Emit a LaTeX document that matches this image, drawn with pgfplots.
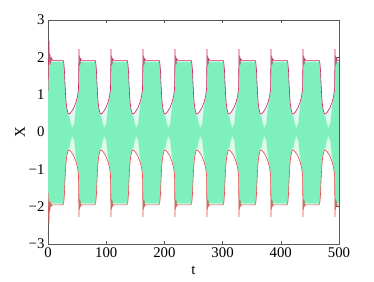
\documentclass[border=0pt]{standalone}
\usepackage{fontspec}
\setmainfont{Liberation Serif}
\usepackage{pgfplots}
\pgfplotsset{compat=1.18}
\usepackage{pgfplotstable}
\usepgfplotslibrary{fillbetween}
\definecolor{envU}{RGB}{208,32,96}
\definecolor{envL}{RGB}{240,70,70}
\definecolor{mint}{RGB}{125,240,190}
\definecolor{mintlt}{RGB}{222,250,237}
\definecolor{ring}{RGB}{150,140,120}

% envelopes: t, upper, lower
\pgfplotstableread{
t U L
0.0 1.10 -1.62
1.0 2.00 -2.10
1.6 2.45 -2.45
2.4 1.88 -1.90
3.4 2.08 -2.05
4.5 1.86 -1.90
6.0 1.98 -1.98
8.0 1.92 -1.95
25.7 1.92 -1.95
27.2 1.85 -1.88
28.2 1.65 -1.67
29.2 1.30 -1.30
30.2 0.98 -0.98
31.2 0.78 -0.78
32.7 0.60 -0.60
34.7 0.50 -0.50
36.7 0.48 -0.48
40.2 0.54 -0.54
44.2 0.64 -0.64
48.2 0.80 -0.80
50.7 0.95 -0.95
52.4 1.15 -1.15
53.2 2.22 -2.27
53.8 1.80 -1.85
54.4 2.02 -2.05
55.2 1.86 -1.88
56.2 1.96 -1.98
57.7 1.92 -1.95
80.7 1.92 -1.95
82.2 1.85 -1.88
83.2 1.65 -1.67
84.2 1.30 -1.30
85.2 0.98 -0.98
86.2 0.78 -0.78
87.7 0.60 -0.60
89.7 0.50 -0.50
91.7 0.48 -0.48
95.2 0.54 -0.54
99.2 0.64 -0.64
103.2 0.80 -0.80
105.7 0.95 -0.95
107.4 1.15 -1.15
108.2 2.22 -2.27
108.8 1.80 -1.85
109.4 2.02 -2.05
110.2 1.86 -1.88
111.2 1.96 -1.98
112.7 1.92 -1.95
135.7 1.92 -1.95
137.2 1.85 -1.88
138.2 1.65 -1.67
139.2 1.30 -1.30
140.2 0.98 -0.98
141.2 0.78 -0.78
142.7 0.60 -0.60
144.7 0.50 -0.50
146.7 0.48 -0.48
150.2 0.54 -0.54
154.2 0.64 -0.64
158.2 0.80 -0.80
160.7 0.95 -0.95
162.4 1.15 -1.15
163.2 2.22 -2.27
163.8 1.80 -1.85
164.4 2.02 -2.05
165.2 1.86 -1.88
166.2 1.96 -1.98
167.7 1.92 -1.95
190.7 1.92 -1.95
192.2 1.85 -1.88
193.2 1.65 -1.67
194.2 1.30 -1.30
195.2 0.98 -0.98
196.2 0.78 -0.78
197.7 0.60 -0.60
199.7 0.50 -0.50
201.7 0.48 -0.48
205.2 0.54 -0.54
209.2 0.64 -0.64
213.2 0.80 -0.80
215.7 0.95 -0.95
217.4 1.15 -1.15
218.2 2.22 -2.27
218.8 1.80 -1.85
219.4 2.02 -2.05
220.2 1.86 -1.88
221.2 1.96 -1.98
222.7 1.92 -1.95
245.7 1.92 -1.95
247.2 1.85 -1.88
248.2 1.65 -1.67
249.2 1.30 -1.30
250.2 0.98 -0.98
251.2 0.78 -0.78
252.7 0.60 -0.60
254.7 0.50 -0.50
256.7 0.48 -0.48
260.2 0.54 -0.54
264.2 0.64 -0.64
268.2 0.80 -0.80
270.7 0.95 -0.95
272.4 1.15 -1.15
273.2 2.22 -2.27
273.8 1.80 -1.85
274.4 2.02 -2.05
275.2 1.86 -1.88
276.2 1.96 -1.98
277.7 1.92 -1.95
300.7 1.92 -1.95
302.2 1.85 -1.88
303.2 1.65 -1.67
304.2 1.30 -1.30
305.2 0.98 -0.98
306.2 0.78 -0.78
307.7 0.60 -0.60
309.7 0.50 -0.50
311.7 0.48 -0.48
315.2 0.54 -0.54
319.2 0.64 -0.64
323.2 0.80 -0.80
325.7 0.95 -0.95
327.4 1.15 -1.15
328.2 2.22 -2.27
328.8 1.80 -1.85
329.4 2.02 -2.05
330.2 1.86 -1.88
331.2 1.96 -1.98
332.7 1.92 -1.95
355.7 1.92 -1.95
357.2 1.85 -1.88
358.2 1.65 -1.67
359.2 1.30 -1.30
360.2 0.98 -0.98
361.2 0.78 -0.78
362.7 0.60 -0.60
364.7 0.50 -0.50
366.7 0.48 -0.48
370.2 0.54 -0.54
374.2 0.64 -0.64
378.2 0.80 -0.80
380.7 0.95 -0.95
382.4 1.15 -1.15
383.2 2.22 -2.27
383.8 1.80 -1.85
384.4 2.02 -2.05
385.2 1.86 -1.88
386.2 1.96 -1.98
387.7 1.92 -1.95
410.7 1.92 -1.95
412.2 1.85 -1.88
413.2 1.65 -1.67
414.2 1.30 -1.30
415.2 0.98 -0.98
416.2 0.78 -0.78
417.7 0.60 -0.60
419.7 0.50 -0.50
421.7 0.48 -0.48
425.2 0.54 -0.54
429.2 0.64 -0.64
433.2 0.80 -0.80
435.7 0.95 -0.95
437.4 1.15 -1.15
438.2 2.22 -2.27
438.8 1.80 -1.85
439.4 2.02 -2.05
440.2 1.86 -1.88
441.2 1.96 -1.98
442.7 1.92 -1.95
465.7 1.92 -1.95
467.2 1.85 -1.88
468.2 1.65 -1.67
469.2 1.30 -1.30
470.2 0.98 -0.98
471.2 0.78 -0.78
472.7 0.60 -0.60
474.7 0.50 -0.50
476.7 0.48 -0.48
480.2 0.54 -0.54
484.2 0.64 -0.64
488.2 0.80 -0.80
490.7 0.95 -0.95
492.4 1.15 -1.15
493.2 2.22 -2.27
493.8 1.80 -1.85
494.4 2.02 -2.05
495.2 1.86 -1.88
496.2 1.96 -1.98
497.7 1.92 -1.95
500.0 1.92 -1.95
}\envtab

% bounds of the dense fast oscillation: t, upper, lower
\pgfplotstableread{
t GU GL
0.0 1.00 -1.50
1.5 1.88 -1.91
26.2 1.88 -1.91
27.2 1.83 -1.86
28.2 1.62 -1.64
29.2 1.27 -1.27
30.2 0.95 -0.95
31.2 0.75 -0.75
32.7 0.57 -0.57
34.7 0.47 -0.47
36.7 0.40 -0.40
39.2 0.22 -0.22
42.2 0.10 -0.10
45.2 0.25 -0.25
48.2 0.70 -0.70
50.7 0.92 -0.92
52.4 1.12 -1.12
53.5 1.88 -1.91
81.2 1.88 -1.91
82.2 1.83 -1.86
83.2 1.62 -1.64
84.2 1.27 -1.27
85.2 0.95 -0.95
86.2 0.75 -0.75
87.7 0.57 -0.57
89.7 0.47 -0.47
91.7 0.40 -0.40
94.2 0.22 -0.22
97.2 0.10 -0.10
100.2 0.25 -0.25
103.2 0.70 -0.70
105.7 0.92 -0.92
107.4 1.12 -1.12
108.5 1.88 -1.91
136.2 1.88 -1.91
137.2 1.83 -1.86
138.2 1.62 -1.64
139.2 1.27 -1.27
140.2 0.95 -0.95
141.2 0.75 -0.75
142.7 0.57 -0.57
144.7 0.47 -0.47
146.7 0.40 -0.40
149.2 0.22 -0.22
152.2 0.10 -0.10
155.2 0.25 -0.25
158.2 0.70 -0.70
160.7 0.92 -0.92
162.4 1.12 -1.12
163.5 1.88 -1.91
191.2 1.88 -1.91
192.2 1.83 -1.86
193.2 1.62 -1.64
194.2 1.27 -1.27
195.2 0.95 -0.95
196.2 0.75 -0.75
197.7 0.57 -0.57
199.7 0.47 -0.47
201.7 0.40 -0.40
204.2 0.22 -0.22
207.2 0.10 -0.10
210.2 0.25 -0.25
213.2 0.70 -0.70
215.7 0.92 -0.92
217.4 1.12 -1.12
218.5 1.88 -1.91
246.2 1.88 -1.91
247.2 1.83 -1.86
248.2 1.62 -1.64
249.2 1.27 -1.27
250.2 0.95 -0.95
251.2 0.75 -0.75
252.7 0.57 -0.57
254.7 0.47 -0.47
256.7 0.40 -0.40
259.2 0.22 -0.22
262.2 0.10 -0.10
265.2 0.25 -0.25
268.2 0.70 -0.70
270.7 0.92 -0.92
272.4 1.12 -1.12
273.5 1.88 -1.91
301.2 1.88 -1.91
302.2 1.83 -1.86
303.2 1.62 -1.64
304.2 1.27 -1.27
305.2 0.95 -0.95
306.2 0.75 -0.75
307.7 0.57 -0.57
309.7 0.47 -0.47
311.7 0.40 -0.40
314.2 0.22 -0.22
317.2 0.10 -0.10
320.2 0.25 -0.25
323.2 0.70 -0.70
325.7 0.92 -0.92
327.4 1.12 -1.12
328.5 1.88 -1.91
356.2 1.88 -1.91
357.2 1.83 -1.86
358.2 1.62 -1.64
359.2 1.27 -1.27
360.2 0.95 -0.95
361.2 0.75 -0.75
362.7 0.57 -0.57
364.7 0.47 -0.47
366.7 0.40 -0.40
369.2 0.22 -0.22
372.2 0.10 -0.10
375.2 0.25 -0.25
378.2 0.70 -0.70
380.7 0.92 -0.92
382.4 1.12 -1.12
383.5 1.88 -1.91
411.2 1.88 -1.91
412.2 1.83 -1.86
413.2 1.62 -1.64
414.2 1.27 -1.27
415.2 0.95 -0.95
416.2 0.75 -0.75
417.7 0.57 -0.57
419.7 0.47 -0.47
421.7 0.40 -0.40
424.2 0.22 -0.22
427.2 0.10 -0.10
430.2 0.25 -0.25
433.2 0.70 -0.70
435.7 0.92 -0.92
437.4 1.12 -1.12
438.5 1.88 -1.91
466.2 1.88 -1.91
467.2 1.83 -1.86
468.2 1.62 -1.64
469.2 1.27 -1.27
470.2 0.95 -0.95
471.2 0.75 -0.75
472.7 0.57 -0.57
474.7 0.47 -0.47
476.7 0.40 -0.40
479.2 0.22 -0.22
482.2 0.10 -0.10
485.2 0.25 -0.25
488.2 0.70 -0.70
490.7 0.92 -0.92
492.4 1.12 -1.12
493.5 1.88 -1.91
500.0 1.88 -1.91
}\gtab

% ringing right after each spike: t, upper, lower
\pgfplotstableread{
t U L
1.2 1.60 -1.65
1.8 2.25 -2.28
2.6 1.82 -1.86
3.6 2.02 -2.03
5.0 1.88 -1.91
6.5 1.94 -1.96
nan nan nan
53.1 1.60 -1.65
53.6 2.05 -2.10
54.1 1.78 -1.80
54.7 1.98 -2.00
55.5 1.84 -1.87
56.5 1.92 -1.95
nan nan nan
108.1 1.60 -1.65
108.6 2.05 -2.10
109.1 1.78 -1.80
109.7 1.98 -2.00
110.5 1.84 -1.87
111.5 1.92 -1.95
nan nan nan
163.1 1.60 -1.65
163.6 2.05 -2.10
164.1 1.78 -1.80
164.7 1.98 -2.00
165.5 1.84 -1.87
166.5 1.92 -1.95
nan nan nan
218.1 1.60 -1.65
218.6 2.05 -2.10
219.1 1.78 -1.80
219.7 1.98 -2.00
220.5 1.84 -1.87
221.5 1.92 -1.95
nan nan nan
273.1 1.60 -1.65
273.6 2.05 -2.10
274.1 1.78 -1.80
274.7 1.98 -2.00
275.5 1.84 -1.87
276.5 1.92 -1.95
nan nan nan
328.1 1.60 -1.65
328.6 2.05 -2.10
329.1 1.78 -1.80
329.7 1.98 -2.00
330.5 1.84 -1.87
331.5 1.92 -1.95
nan nan nan
383.1 1.60 -1.65
383.6 2.05 -2.10
384.1 1.78 -1.80
384.7 1.98 -2.00
385.5 1.84 -1.87
386.5 1.92 -1.95
nan nan nan
438.1 1.60 -1.65
438.6 2.05 -2.10
439.1 1.78 -1.80
439.7 1.98 -2.00
440.5 1.84 -1.87
441.5 1.92 -1.95
nan nan nan
493.1 1.60 -1.65
493.6 2.05 -2.10
494.1 1.78 -1.80
494.7 1.98 -2.00
495.5 1.84 -1.87
496.5 1.92 -1.95
}\ringtab

\begin{document}
\begin{tikzpicture}
\path (-48pt,-37pt) rectangle (326pt,244pt);
\begin{axis}[
  at={(0pt,0pt)}, anchor=south west,
  scale only axis, width=291pt, height=224pt,
  xmin=0, xmax=500, ymin=-3, ymax=3,
  xtick={0,100,...,500},
  ytick={-3,-2,-1,0,1,2,3},
  yticklabels={−3,−2,−1,0,1,2,3},
  /pgf/number format/assume math mode=true,
  tick align=inside, major tick length=3pt,
  axis line style={black!65, line width=0.5pt},
  tick style={black!65, line width=0.5pt},
  font=\fontsize{14.8}{17}\selectfont,
  xlabel={t}, ylabel={X},
  xlabel style={yshift=-2pt},
  ylabel style={yshift=-3pt},
  unbounded coords=jump,
  clip=true,
]
\addplot[draw=none, name path=eu, forget plot] table[x=t, y=U] {\envtab};
\addplot[draw=none, name path=el, forget plot] table[x=t, y=L] {\envtab};
\addplot[fill=mintlt, draw=none] fill between[of=eu and el];
\addplot[draw=none, name path=gu, forget plot] table[x=t, y=GU] {\gtab};
\addplot[draw=none, name path=gl, forget plot] table[x=t, y=GL] {\gtab};
\addplot[fill=mint, draw=none] fill between[of=gu and gl];
\addplot[envU, line width=0.6pt] table[x=t, y=U] {\envtab};
\addplot[envL, line width=0.6pt] table[x=t, y=L] {\envtab};
\addplot[ring, line width=0.4pt, opacity=0.8] table[x=t, y=U] {\ringtab};
\addplot[ring, line width=0.4pt, opacity=0.8] table[x=t, y=L] {\ringtab};
\end{axis}
\end{tikzpicture}
\end{document}
